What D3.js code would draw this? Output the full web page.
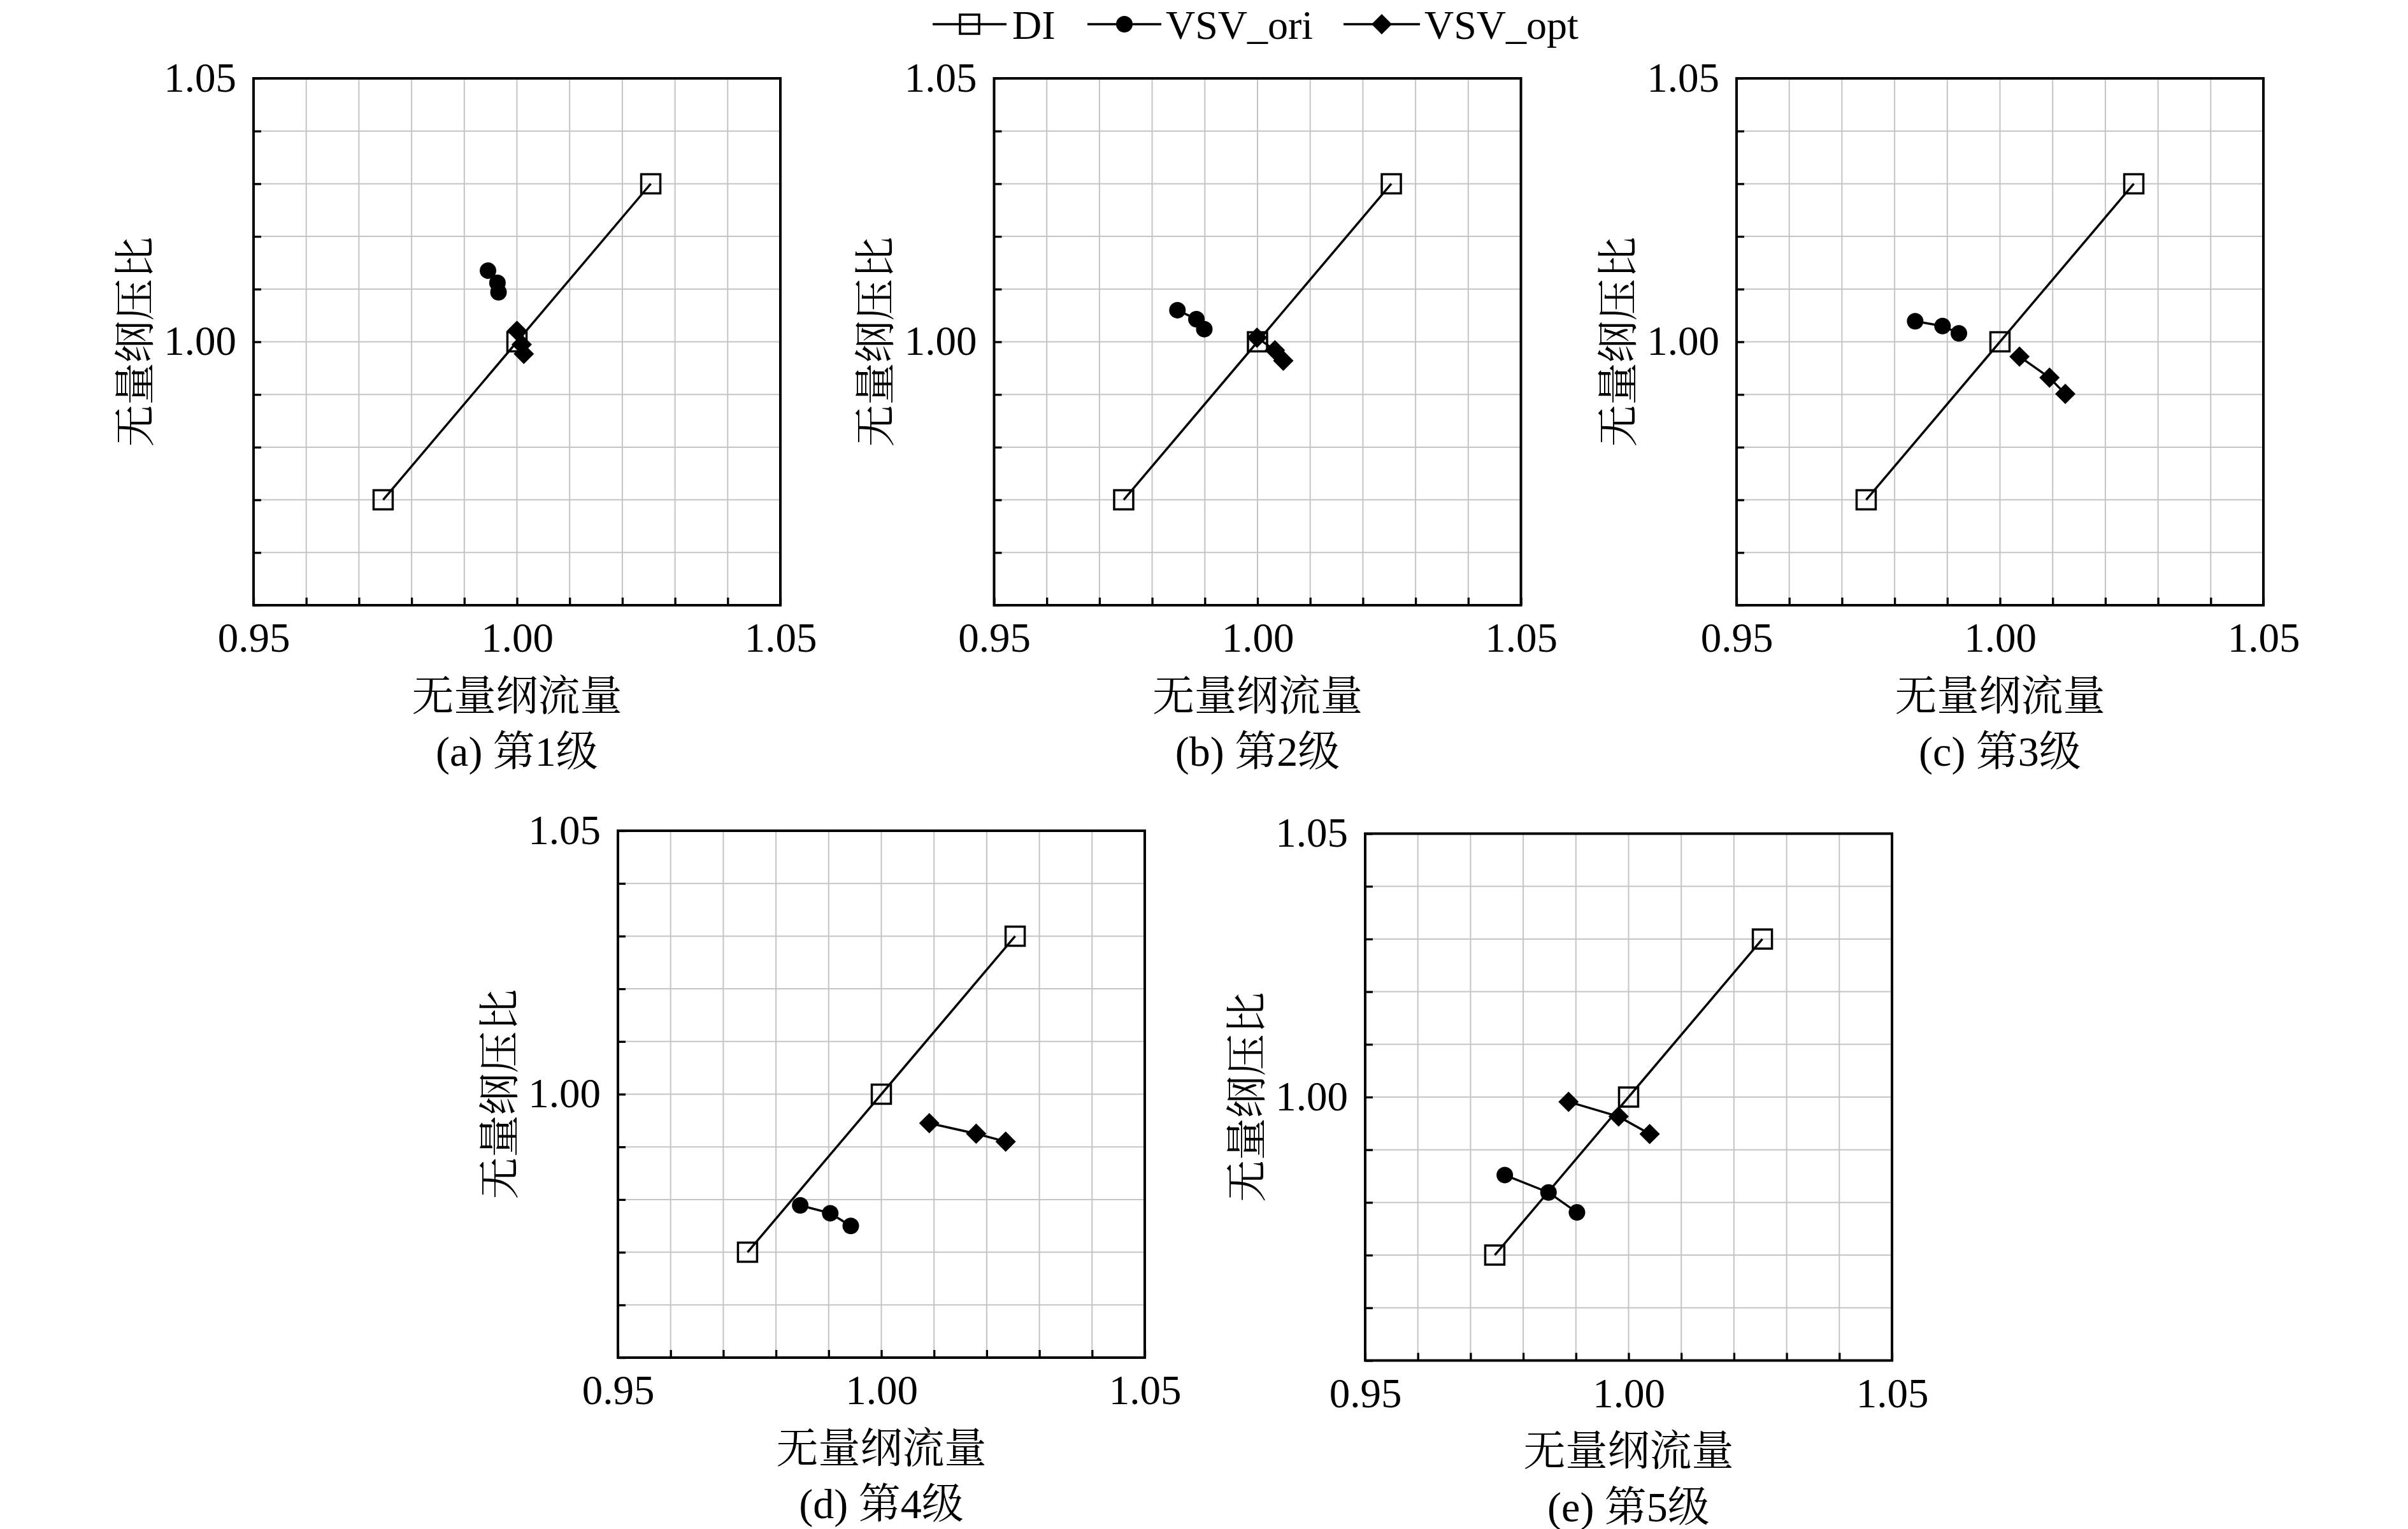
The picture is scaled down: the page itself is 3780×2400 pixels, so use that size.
<!DOCTYPE html>
<html><head><meta charset="utf-8">
<script src="https://cdn.jsdelivr.net/npm/d3@7"></script>
<style>body{margin:0;background:#fff} svg{display:block}</style>
</head><body>
<script>
// ---- data ----
const panelLabels = ["(a) 第1级","(b) 第2级","(c) 第3级","(d) 第4级","(e) 第5级"];
const seriesNames = ["DI","VSV_ori","VSV_opt"];
const xTitle = "无量纲流量";
const yTitle = "无量纲压比";
const axisDomain = [0.95, 1.05];
const xTickLabels = ["0.95","1.00","1.05"];
const yTickLabels = ["1.00","1.05"];
const diFlow = [0.9746, 1.0000, 1.0254];
const diPR   = [0.970, 1.000, 1.030];
const oriFlow = [[0.9945,0.9963,0.9965],[0.9848,0.9884,0.9899],[0.9839,0.9891,0.9922],[0.9846,0.9903,0.9942],[0.9765,0.9848,0.9902]];
const oriPR   = [[1.0135,1.0112,1.0094],[1.0060,1.0043,1.0024],[1.0039,1.0030,1.0016],[0.9789,0.9774,0.9750],[0.9852,0.9819,0.9781]];
const optFlow = [[1.0000,1.0009,1.0013],[0.9999,1.0033,1.0049],[1.0037,1.0094,1.0124],[1.0091,1.0180,1.0236],[0.9886,0.9981,1.0040]];
const optPR   = [[1.0021,0.9995,0.9977],[1.0008,0.9984,0.9964],[0.9972,0.9932,0.9901],[0.9945,0.9925,0.9910],[0.9991,0.9963,0.9930]];

// ---- layout ----
const W = 3780, H = 2400;
const S = 827;
const panelPos = [[398,123],[1560.5,123],[2726,123],[970,1304],[2143,1308.5]];
const latin = "'Liberation Serif','Times New Roman',serif";
const mixed = "'Liberation Serif','Noto Serif CJK SC','Noto Sans CJK SC',serif";
const cjk = "'Noto Serif CJK SC','Noto Sans CJK SC',sans-serif";
const lw = 3.5;

const svg = d3.select("body").append("svg").attr("width", W).attr("height", H)
  .style("background","#fff");

const ticks = d3.range(11).map(i => +(axisDomain[0] + i * 0.01).toFixed(2));

const sqSym = d3.symbol().type(d3.symbolSquare).size(900);
const circSym = d3.symbol().type(d3.symbolCircle).size(Math.PI * 13 * 13);
const diaSym = d3.symbol().type(d3.symbolSquare).size(512);

function drawSquare(g, cx, cy) {
  g.append("path").attr("d", sqSym()).attr("transform", `translate(${cx},${cy})`)
    .attr("fill", "none").attr("stroke", "#000").attr("stroke-width", lw);
}
function drawCircle(g, cx, cy) {
  g.append("path").attr("d", circSym()).attr("transform", `translate(${cx},${cy})`).attr("fill", "#000");
}
function drawDiamond(g, cx, cy) {
  g.append("path").attr("d", diaSym()).attr("transform", `translate(${cx},${cy}) rotate(45)`).attr("fill", "#000");
}

panelLabels.forEach((lab, p) => {
  const [px, py] = panelPos[p];
  const g = svg.append("g").attr("transform", `translate(${px},${py})`);
  const x = d3.scaleLinear().domain(axisDomain).range([0, S]);
  const y = d3.scaleLinear().domain(axisDomain).range([S, 0]);

  // grid
  g.append("g").selectAll("line").data(ticks.slice(1, -1)).join("line")
    .attr("x1", d => x(d)).attr("x2", d => x(d)).attr("y1", 0).attr("y2", S)
    .attr("stroke", "#c4c4c4").attr("stroke-width", 2);
  g.append("g").selectAll("line").data(ticks.slice(1, -1)).join("line")
    .attr("y1", d => y(d)).attr("y2", d => y(d)).attr("x1", 0).attr("x2", S)
    .attr("stroke", "#c4c4c4").attr("stroke-width", 2);

  // axes
  const xa = g.append("g").attr("transform", `translate(0,${S})`)
    .call(d3.axisBottom(x).tickValues(ticks).tickSize(-12)
      .tickFormat(d => xTickLabels.includes(d.toFixed(2)) ? d.toFixed(2) : ""));
  xa.select(".domain").remove();
  xa.selectAll(".tick line").attr("stroke", "#000").attr("stroke-width", 3.3);
  xa.selectAll(".tick text").attr("y", 73).attr("dy", 0)
    .attr("font-family", latin).attr("font-size", 65).attr("fill", "#000");

  const ya = g.append("g")
    .call(d3.axisLeft(y).tickValues(ticks).tickSize(-12)
      .tickFormat(d => yTickLabels.includes(d.toFixed(2)) ? d.toFixed(2) : ""));
  ya.select(".domain").remove();
  ya.selectAll(".tick line").attr("stroke", "#000").attr("stroke-width", 3.3);
  ya.selectAll(".tick text").attr("x", -27).attr("dy", 0).attr("y", 20)
    .attr("font-family", latin).attr("font-size", 65).attr("fill", "#000");

  // frame
  g.append("rect").attr("x", 0).attr("y", 0).attr("width", S).attr("height", S)
    .attr("fill", "none").attr("stroke", "#000").attr("stroke-width", 4);

  const line = d3.line().x(d => x(d[0])).y(d => y(d[1]));

  // DI
  const di = diFlow.map((f, i) => [f, diPR[i]]);
  g.append("path").attr("d", line(di)).attr("fill", "none").attr("stroke", "#000").attr("stroke-width", lw);
  di.forEach(d => drawSquare(g, x(d[0]), y(d[1])));

  // VSV_ori
  const ori = oriFlow[p].map((f, i) => [f, oriPR[p][i]]);
  g.append("path").attr("d", line(ori)).attr("fill", "none").attr("stroke", "#000").attr("stroke-width", lw);
  ori.forEach(d => drawCircle(g, x(d[0]), y(d[1])));

  // VSV_opt
  const opt = optFlow[p].map((f, i) => [f, optPR[p][i]]);
  g.append("path").attr("d", line(opt)).attr("fill", "none").attr("stroke", "#000").attr("stroke-width", lw);
  opt.forEach(d => drawDiamond(g, x(d[0]), y(d[1])));

  // titles
  g.append("text").attr("x", S / 2).attr("y", S + 136).attr("text-anchor", "middle")
    .attr("dominant-baseline", "central").attr("font-family", cjk).attr("font-size", 66)
    .attr("fill", "#000").text(xTitle);
  g.append("text").attr("transform", `translate(-192,${S / 2}) rotate(-90)`).attr("text-anchor", "middle")
    .attr("dominant-baseline", "central").attr("font-family", cjk).attr("font-size", 66)
    .attr("fill", "#000").text(yTitle);
  g.append("text").attr("x", S / 2).attr("y", S + 252).attr("text-anchor", "middle")
    .attr("font-family", mixed).attr("font-size", 66).attr("fill", "#000").text(lab);
});

// legend
const legY = 38;
const legItems = [
  {x0: 1464, x1: 1580, tx: 1589, draw: (g, cx) => drawSquare(g, cx, legY)},
  {x0: 1707, x1: 1823, tx: 1830, draw: (g, cx) => drawCircle(g, cx, legY)},
  {x0: 2109, x1: 2229, tx: 2236, draw: (g, cx) => drawDiamond(g, cx, legY)}
];
const lg = svg.append("g");
legItems.forEach((it, i) => {
  lg.append("line").attr("x1", it.x0).attr("x2", it.x1).attr("y1", legY).attr("y2", legY)
    .attr("stroke", "#000").attr("stroke-width", lw);
  it.draw(lg, (it.x0 + it.x1) / 2);
  lg.append("text").attr("x", it.tx).attr("y", 61).attr("font-family", latin).attr("font-size", 64)
    .attr("fill", "#000").text(seriesNames[i]);
});
</script>
</body></html>
